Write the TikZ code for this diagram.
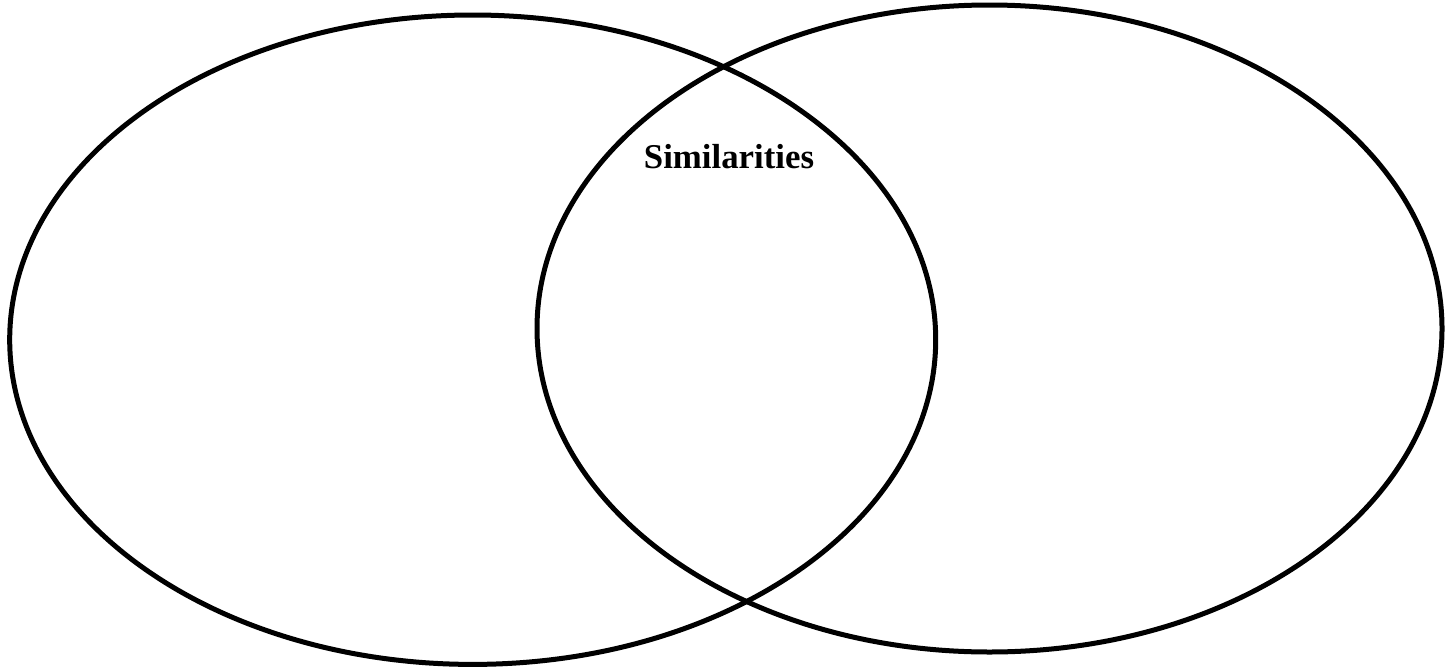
\documentclass[tikz,border=0pt]{standalone}
\usepackage{fontspec}
\setmainfont{Liberation Serif}
\tikzset{venn/.style={draw=black,line width=2.5pt}}
\begin{document}
\begin{tikzpicture}
\useasboundingbox (0pt,0pt) rectangle (727pt,-334.5pt);
\draw[venn] (236.35pt,-169.85pt) ellipse [x radius=231.5pt, y radius=162.35pt];
\draw[venn] (494.75pt,-164.25pt) ellipse [x radius=226.25pt, y radius=161.75pt];
\node[anchor=base,inner sep=0pt,font=\bfseries\fontsize{17.4}{20}\selectfont] (sim) at (364.5pt,-84pt) {Similarities};
\end{tikzpicture}
\end{document}
